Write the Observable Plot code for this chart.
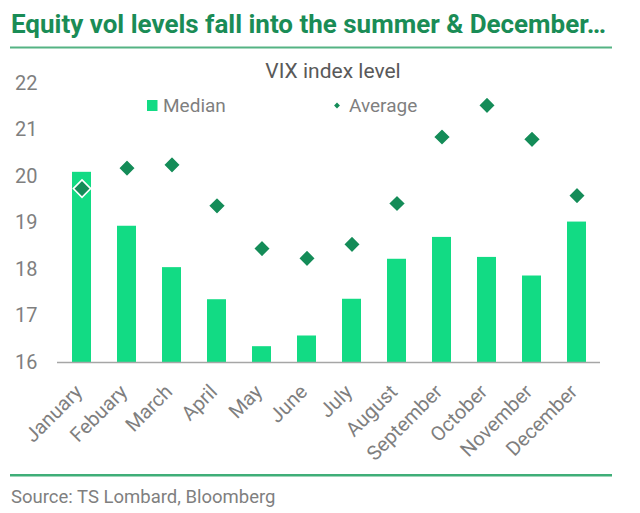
<!DOCTYPE html>
<html>
<head>
<meta charset="utf-8">
<script src="https://cdn.jsdelivr.net/npm/d3@7"></script>
<script src="https://cdn.jsdelivr.net/npm/@observablehq/plot@0.6"></script>
<style>
  html, body { margin: 0; padding: 0; background: #fff; }
  #wrap { position: relative; width: 640px; height: 513px; overflow: hidden; font-family: Roboto, "Noto Sans", sans-serif; }
  #wrap > * { position: absolute; left: 0; top: 0; }
  #title { left: 11px; top: 12px; font-size: 25px; line-height: 25px; font-weight: 700; color: #1a8c56; white-space: nowrap; transform-origin: 0 0; }
  #chart { top: 50px; }
  #overlay { pointer-events: none; }
</style>
</head>
<body>
<div id="wrap">
  <div id="title">Equity vol levels fall into the summer &amp; December…</div>
  <div id="chart"></div>
</div>
<script>
const months = ["January", "Febuary", "March", "April", "May", "June", "July", "August", "September", "October", "November", "December"];
const median = [20.09, 18.93, 18.04, 17.35, 16.34, 16.57, 17.36, 18.22, 18.69, 18.26, 17.86, 19.02];
const average = [19.74, 20.18, 20.25, 19.37, 18.45, 18.24, 18.54, 19.42, 20.85, 21.53, 20.80, 19.59];
const yTicks = [16, 17, 18, 19, 20, 21, 22];
const subtitle = "VIX index level";
const seriesNames = ["Median", "Average"];
const source = "Source: TS Lombard, Bloomberg";

const barColor = "#12db84";
const dotColor = "#148c58";
const grey = "#7f7f7f";

const data = months.map((m, i) => ({month: m, median: median[i], average: average[i]}));

const chart = Plot.plot({
  width: 640,
  height: 423,
  marginTop: 33,
  marginBottom: 111,
  marginLeft: 57,
  marginRight: 40,
  style: {fontFamily: "Roboto, sans-serif", background: "transparent", overflow: "visible"},
  x: {domain: months, paddingInner: 0.58, paddingOuter: 0.29, label: null},
  y: {domain: [16, 22], label: null},
  marks: [
    Plot.barY(data, {x: "month", y1: 16, y2: "median", fill: barColor}),
    Plot.ruleY([16], {stroke: "#a6a6a6", strokeWidth: 1.5}),
    Plot.dot(data, {x: "month", y: "average", symbol: "diamond2", r: 7.8, fill: dotColor, stroke: "white", strokeWidth: 1.6}),
    Plot.axisY({ticks: yTicks, tickFormat: "d", tickSize: 0, tickPadding: 20, fontSize: 20, fill: grey, label: null}),
    Plot.axisX({tickRotate: -45, tickSize: 0, tickPadding: 26, dx: -3, fontSize: 20, fill: grey, label: null})
  ]
});
document.getElementById("chart").appendChild(chart);

// overlay: rules, subtitle, legend, source
const ov = d3.create("svg").attr("id", "overlay").attr("width", 640).attr("height", 513)
  .style("font-family", "Roboto, sans-serif");
ov.append("rect").attr("x", 10).attr("y", 46.5).attr("width", 602).attr("height", 2).attr("fill", "#55b383");
ov.append("rect").attr("x", 10).attr("y", 474).attr("width", 602).attr("height", 2.5).attr("fill", "#3fae78");
ov.append("text").attr("x", 333).attr("y", 78).attr("text-anchor", "middle").attr("font-size", 21)
  .attr("fill", "#595959").text(subtitle);
ov.append("rect").attr("x", 147).attr("y", 100).attr("width", 10.5).attr("height", 11).attr("fill", barColor);
ov.append("text").attr("x", 163).attr("y", 112).attr("font-size", 19).attr("fill", grey).text(seriesNames[0]);
ov.append("path").attr("d", d3.symbol(d3.symbolDiamond2, 22)()).attr("transform", "translate(337,105.5)").attr("fill", dotColor);
ov.append("text").attr("x", 349).attr("y", 112).attr("font-size", 19).attr("fill", grey).text(seriesNames[1]);
ov.append("text").attr("x", 11).attr("y", 503).attr("font-size", 18.5).attr("fill", grey).text(source);
document.getElementById("wrap").appendChild(ov.node());

// fit title width to the reference's condensed face
const t = document.getElementById("title");
const w = t.getBoundingClientRect().width;
t.style.transform = `scaleX(${595 / w})`;
</script>
</body>
</html>
